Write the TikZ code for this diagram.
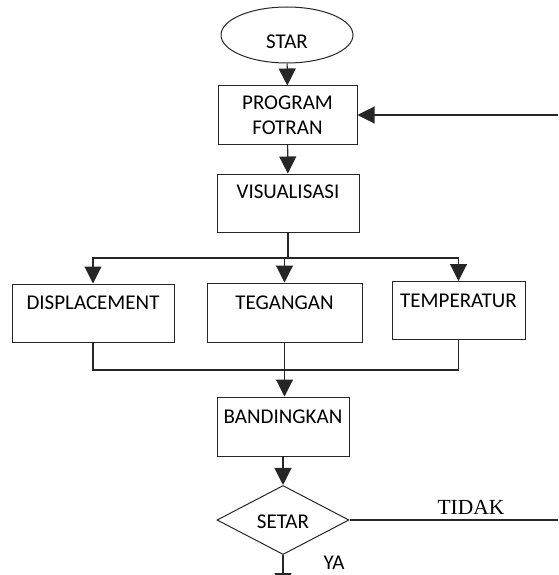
\documentclass[tikz,border=0pt]{standalone}
\usepackage{fontspec}
\setmainfont{Carlito}
\newfontfamily\timesf{Liberation Serif}
\usetikzlibrary{arrows.meta,shapes.geometric}
\begin{document}
\begin{tikzpicture}[x=1pt,y=-1pt,
  every node/.style={font=\fontsize{21}{25}\selectfont, inner sep=0pt},
  boxnode/.style={draw=black!85, line width=1pt, rectangle, text height=25.5pt, text depth=32.5pt, minimum height=58pt},
  conn/.style={draw=black!85, line width=1.1pt},
  arr/.style={conn, -{Triangle[length=17pt,width=17pt]}}
]
\useasboundingbox (0,0) rectangle (558,575);
\clip (0,0) rectangle (558,575);

\node[draw=black!85, line width=1pt, ellipse, minimum width=132pt, minimum height=56pt, text height=27pt, text depth=0pt] (start) at (287,35) {STAR};
\node[draw=black!85, line width=1pt, rectangle, minimum width=139pt, minimum height=58pt, align=center] (prog) at (287.5,115) {PROGRAM\\FOTRAN};
\node[boxnode, minimum width=142pt, text height=24.5pt, text depth=33.5pt] (vis) at (288,203) {VISUALISASI};
\node[boxnode, minimum width=162pt] (disp) at (93,313) {DISPLACEMENT};
\node[boxnode, minimum width=155pt, text height=26.5pt, text depth=32.5pt] (teg) at (284.5,312.5) {TEGANGAN};
\node[boxnode, minimum width=133pt, text height=25.5pt, text depth=31.5pt] (temp) at (458.5,310.5) {TEMPERATUR};
\node[boxnode, minimum width=132pt, text height=26.5pt, text depth=32.5pt] (band) at (283,426.5) {BANDINGKAN};
\node[draw=black!85, line width=1pt, diamond, minimum width=132pt, minimum height=57pt, text height=17pt, text depth=0pt] (setar) at (283,520) {SETAR};

\coordinate (fbin) at (558,115);
\coordinate (fbout) at (558,520);
\coordinate (split) at (288,258);
\coordinate (merge) at (284,370);
\coordinate (down) at (283,590);

\node[font=\timesf\fontsize{21.5}{24}\selectfont, anchor=base] (tidak) at (471,514.5) {TIDAK};
\node[anchor=base] (ya) at (334,569.5) {YA};

% connectors
\draw[arr] (start) -- (prog);
\draw[arr] (fbin) -- (prog.east);
\draw[arr] (prog) -- (vis);
\draw[conn] (vis.south) -- (split);
\draw[arr] (split) -| (disp.north);
\draw[arr] (split) -| (temp.north);
\draw[arr] (teg.north |- split) -- (teg.north);
\draw[conn] (disp.south) |- (merge);
\draw[conn] (temp.south) |- (merge);
\draw[arr] (teg.south) -- (teg.south |- band.north);
\draw[arr] (band) -- (setar);
\draw[conn] (setar.east) -- (fbout);
\draw[arr] (setar.south) -- (down);
\end{tikzpicture}
\end{document}
